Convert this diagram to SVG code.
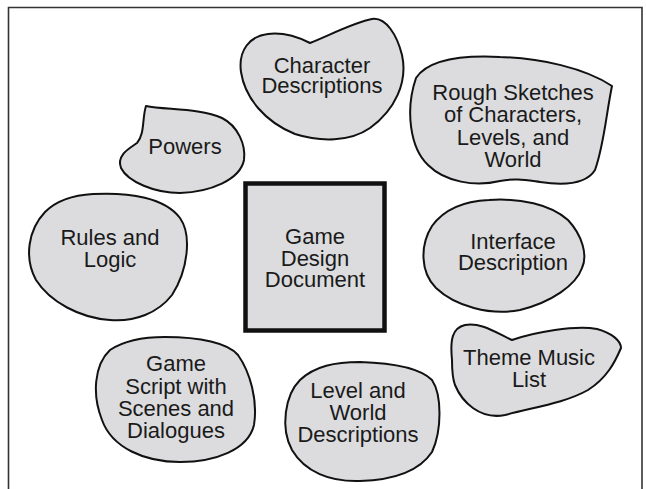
<svg xmlns="http://www.w3.org/2000/svg" width="646" height="489" viewBox="0 0 646 489">
<style>
.blob{fill:#dcdcde;stroke:#111;stroke-width:2;stroke-linejoin:round}
.box{fill:#dcdcde;stroke:#111;stroke-width:4.5}
.frame{fill:none;stroke:#333;stroke-width:1.6}
text{font-family:"Liberation Sans",Arial,Helvetica,sans-serif;font-size:22px;fill:#1a1a1a;text-anchor:middle}
</style>
<rect width="646" height="489" fill="#fff"/>
<path class="frame" d="M8.5,489 V7.5 H642 V489"/>
<g id="connectors"/>
<g id="center">
<rect class="box" x="245.5" y="183.5" width="139" height="147"/>
<text x="315" y="244">Game</text>
<text x="315" y="265.5">Design</text>
<text x="315" y="287">Document</text>
</g>
<g id="character">
<path class="blob" d="M310,43 C330,35 355,22 372,19 C386,17 397,35 402,55 C408,82 395,110 370,128 C350,142 320,142 295,134 C265,122 245,98 241,72 C238,50 250,36 268,34 C285,32 300,38 310,43 Z"/>
<text x="322" y="73">Character</text>
<text x="322" y="93">Descriptions</text>
</g>
<g id="sketches">
<path class="blob" d="M416,78 C428,60 460,55 500,57 C540,58 585,68 612,86 C606,115 604,145 595,170 C585,186 560,185 540,182 C525,180 515,178 500,181 C475,187 445,182 428,165 C410,148 405,110 416,78 Z"/>
<text x="513" y="100">Rough Sketches</text>
<text x="513" y="122">of Characters,</text>
<text x="513" y="144.5">Levels, and</text>
<text x="513" y="166.5">World</text>
</g>
<g id="powers">
<path class="blob" d="M146,106 C165,110 200,108 222,118 C238,126 246,145 244,160 C240,180 210,192 180,193 C155,193 128,182 121,168 C116,155 130,148 137,143 C145,134 142,118 146,106 Z"/>
<text x="185" y="154">Powers</text>
</g>
<g id="rules">
<path class="blob" d="M93,194 C130,192 165,198 180,218 C192,235 188,270 172,295 C158,313 135,322 110,320 C80,318 50,302 36,280 C24,258 28,230 45,212 C58,199 75,195 93,194 Z"/>
<text x="110" y="245">Rules and</text>
<text x="110" y="266.5">Logic</text>
</g>
<g id="interface">
<path class="blob" d="M489,200 C520,198 550,204 568,220 C582,235 588,255 582,268 C576,285 552,302 520,310 C490,316 455,306 436,288 C420,272 420,245 432,226 C445,208 465,201 489,200 Z"/>
<text x="513" y="248.5">Interface</text>
<text x="513" y="270">Description</text>
</g>
<g id="music">
<path class="blob" d="M452,360 C450,340 452,328 465,325 C480,322 495,332 512,340 C535,332 575,325 597,329 C612,333 621,341 621,348 C615,362 607,378 588,390 C565,403 535,407 505,415 C480,420 462,402 455,385 C452,377 452,368 452,360 Z"/>
<text x="529" y="365">Theme Music</text>
<text x="529" y="387">List</text>
</g>
<g id="level">
<path class="blob" d="M360,362 C390,363 420,368 432,380 C442,395 442,430 432,452 C420,470 395,480 360,481 C330,482 305,472 292,450 C280,428 285,395 300,380 C315,366 335,362 360,362 Z"/>
<text x="358" y="398">Level and</text>
<text x="358" y="420">World</text>
<text x="358" y="442">Descriptions</text>
</g>
<g id="script">
<path class="blob" d="M165,337 C200,337 228,343 238,355 C250,372 258,400 254,425 C248,450 215,462 180,462 C145,462 112,448 102,420 C92,395 94,365 110,350 C125,340 145,337 165,337 Z"/>
<text x="176" y="371">Game</text>
<text x="176" y="393.5">Script with</text>
<text x="176" y="416">Scenes and</text>
<text x="176" y="438">Dialogues</text>
</g>
</svg>
